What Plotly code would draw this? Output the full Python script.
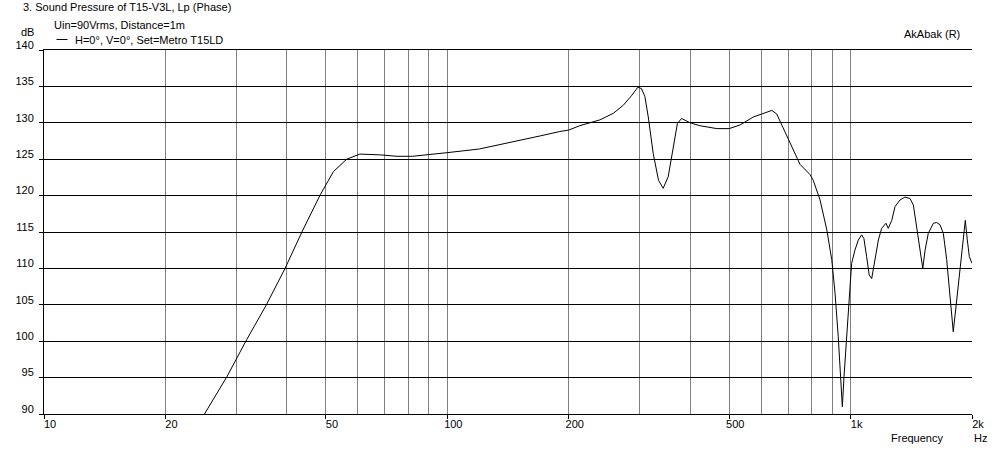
import plotly.graph_objects as go

# ---- data ----
freq_hz = [25.0, 28.4, 31.8, 35.6, 39.6, 43.6, 48.4, 52.2, 56.3, 60.7,
           68, 75, 82, 90, 100, 120, 150, 170, 190, 200,
           213, 239, 258, 273, 286, 297, 303, 309, 315, 324,
           334, 343, 353, 364, 372, 381, 400, 423, 466, 500,
           532, 574, 620, 638, 656, 681, 715, 749, 793, 808,
           840, 873, 898, 915, 932, 945, 954, 963, 978, 991,
           1006, 1025, 1045, 1065, 1079, 1096, 1112, 1128, 1150, 1172,
           1194, 1224, 1240, 1265, 1289, 1326, 1364, 1404, 1431, 1459,
           1487, 1510, 1530, 1558, 1604, 1635, 1666, 1698, 1731, 1764,
           1797, 1825, 1860, 1896, 1925, 1947, 1970, 2000]
spl_db = [90.0, 95.1, 100.2, 105.0, 110.0, 115.0, 120.1, 123.3, 125.0, 125.7,
          125.6, 125.4, 125.4, 125.6, 125.9, 126.4, 127.5, 128.2, 128.8, 129.0,
          129.6, 130.4, 131.3, 132.4, 133.7, 134.9, 134.7, 133.6, 130.8, 125.8,
          122.1, 121.0, 122.6, 127.2, 129.9, 130.6, 130.0, 129.6, 129.2, 129.2,
          129.7, 130.8, 131.5, 131.7, 131.2, 129.2, 126.7, 124.3, 122.9, 122.1,
          119.4, 115.3, 111.2, 106.6, 100.6, 95.1, 91.0, 95.1, 100.6, 105.2,
          110.7, 112.5, 113.9, 114.6, 114.1, 111.6, 109.1, 108.6, 111.6, 113.9,
          115.5, 116.2, 115.5, 116.6, 118.5, 119.4, 119.8, 119.6, 118.7, 115.7,
          112.1, 110.0, 112.5, 114.8, 116.2, 116.3, 116.0, 114.8, 111.2, 106.1,
          101.3, 104.7, 108.9, 113.9, 116.6, 113.9, 111.6, 110.7]

x_tick_vals = [10, 20, 50, 100, 200, 500, 1000, 2000]
x_tick_text = ["10", "20", "50", "100", "200", "500", "1k", "2k"]
x_minor_vals = [30, 40, 60, 70, 80, 90, 300, 400, 600, 700, 800, 900]
y_tick_vals = [90, 95, 100, 105, 110, 115, 120, 125, 130, 135, 140]

title_text = "3. Sound Pressure of T15-V3L, Lp (Phase)"
subtitle_text = "Uin=90Vrms, Distance=1m"
legend_text = "H=0°, V=0°, Set=Metro T15LD"
brand_text = "AkAbak (R)"

FONT = "Liberation Sans, Arial, sans-serif"
W, H = 998, 451
L, R, T, B = 44, 26, 50, 37
PW, PH = W - L - R, H - T - B


def px(xp):
    return (xp - L) / PW


def py(yp):
    return (H - B - yp) / PH


fig = go.Figure()
fig.add_trace(go.Scatter(x=freq_hz, y=spl_db, mode="lines",
                         line=dict(color="black", width=1),
                         name=legend_text, showlegend=False,
                         hoverinfo="x+y"))

fig.update_layout(
    width=W, height=H, autosize=False,
    margin=dict(l=L, r=R, t=T, b=B, pad=0),
    paper_bgcolor="white", plot_bgcolor="white",
    font=dict(family=FONT, size=11, color="black"),
    xaxis=dict(type="log", range=[1, 3.30103], automargin=False,
               tickmode="array", tickvals=x_tick_vals, ticktext=x_tick_text,
               ticks="outside", ticklen=4, tickcolor="black", tickwidth=1,
               showgrid=True, gridcolor="#808080", gridwidth=1,
               minor=dict(tickmode="array", tickvals=x_minor_vals,
                          showgrid=True, gridcolor="#808080", gridwidth=1,
                          ticks=""),
               showline=True, linecolor="black", linewidth=1, mirror=True,
               zeroline=False, ticklabelshift=6, ticklabelstandoff=-4,
               tickfont=dict(family=FONT, size=11, color="black")),
    yaxis=dict(range=[90, 140], automargin=False,
               tickmode="array", tickvals=y_tick_vals,
               ticks="outside", ticklen=4, tickcolor="black", tickwidth=1,
               showgrid=True, gridcolor="black", gridwidth=1,
               showline=True, linecolor="black", linewidth=1, mirror=False,
               zeroline=False, ticklabelshift=-5, ticklabelstandoff=3,
               tickfont=dict(family=FONT, size=11, color="black")),
)

ann = dict(xref="paper", yref="paper", showarrow=False,
           font=dict(family=FONT, size=11, color="black"))
fig.add_annotation(text=title_text, x=px(21), y=py(7.5), xanchor="left", yanchor="middle", **ann)
fig.add_annotation(text=subtitle_text, x=px(52), y=py(25), xanchor="left", yanchor="middle", **ann)
fig.add_annotation(text=legend_text, x=px(73), y=py(39.5), xanchor="left", yanchor="middle", **ann)
fig.add_annotation(text="dB", x=px(35.5), y=py(32.5), xanchor="right", yanchor="middle", **ann)
fig.add_annotation(text=brand_text, x=px(962), y=py(34.5), xanchor="right", yanchor="middle", **ann)
fig.add_annotation(text="Frequency", x=px(945), y=py(437.5), xanchor="right", yanchor="middle", **ann)
fig.add_annotation(text="Hz", x=px(972), y=py(437.5), xanchor="left", yanchor="middle", **ann)

# legend sample line
fig.add_shape(type="line", xref="paper", yref="paper",
              x0=px(56.5), x1=px(67.5), y0=py(39.5), y1=py(39.5),
              line=dict(color="black", width=1))

fig.write_html("out.html",
               config={"displayModeBar": False},
               post_script="document.body.style.margin='0px';"
                           "document.body.style.overflow='hidden';")
